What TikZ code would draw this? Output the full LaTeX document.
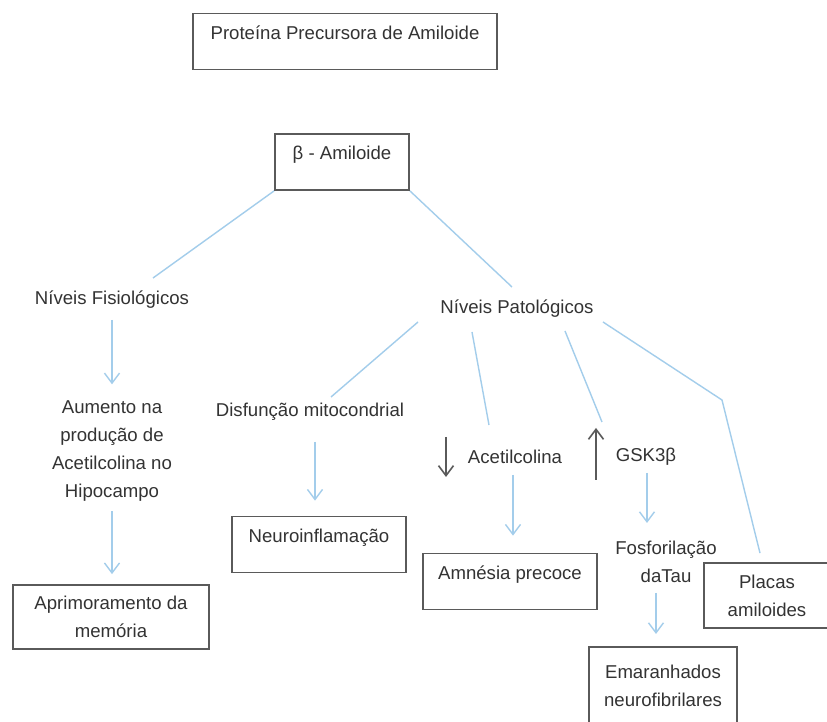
\documentclass[tikz,border=0pt]{standalone}
\usepackage{fontspec}
\setmainfont{Liberation Sans}
\usetikzlibrary{arrows.meta,calc}
\definecolor{linkblue}{HTML}{A3CDEB}
\definecolor{boxgray}{HTML}{5A5A5A}
\definecolor{txtgray}{HTML}{333333}
\tikzset{
  every node/.style={font=\fontsize{9.3}{14}\selectfont, text=txtgray},
  box/.style={draw=boxgray, line width=0.9pt, inner sep=4pt, text height=9pt, text depth=11pt},
  tallbox/.style={draw=boxgray, line width=0.9pt, align=center, inner sep=4pt},
  lbl/.style={align=center, inner sep=2pt},
  link/.style={draw=linkblue, line width=0.7pt},
  flow/.style={link, -{Straight Barb[length=5pt,width=7.5pt]}},
  updown/.style={draw=boxgray, line width=0.8pt, -{Straight Barb[length=5pt,width=7.5pt]}}
}
\begin{document}
\begin{tikzpicture}[x=0.5pt,y=-0.5pt]
  \fill[white] (0,0) rectangle (827,722);
  \useasboundingbox (0,0) rectangle (827,722);
  % boxes
  \node[box, minimum width=152pt] (ppa) at (345,41.5) {Proteína Precursora de Amiloide};
  \node[box, minimum width=67pt] (beta) at (342,162) {β - Amiloide};
  \node[box, minimum width=87pt] (neuro) at (319,544.5) {Neuroinflamação};
  \node[box, minimum width=87pt] (amnesia) at (510,581.5) {Amnésia precoce};
  \node[tallbox, minimum width=98pt, minimum height=32pt] (aprim) at (111,617) {Aprimoramento da\\memória};
  \node[tallbox, minimum width=63pt, minimum height=32.5pt] (placas) at (767,595.5) {Placas\\amiloides};
  \node[tallbox, minimum width=74pt, minimum height=38.5pt, anchor=north] (emar) at (663,646) {Emaranhados\\neurofibrilares};
  % plain labels
  \node[lbl] (fisio) at (112,300) {Níveis Fisiológicos};
  \node[lbl] (pato) at (517,309) {Níveis Patológicos};
  \node[lbl] (aumento) at (112,451) {Aumento na\\produção de\\Acetilcolina no\\Hipocampo};
  \node[lbl] (disf) at (310,412) {Disfunção mitocondrial};
  \node[lbl] (acet) at (515,457) {Acetilcolina};
  \node[lbl] (gsk) at (646,457) {GSK3β};
  \node[lbl] (fosf) at (666,562) {Fosforilação\\daTau};
  % up / down marks
  \coordinate (dnA) at (446,437);
  \coordinate (dnB) at (446,477);
  \coordinate (upA) at (596,480);
  \coordinate (upB) at (596,428);
  \coordinate (bend) at (722,400);
  % connectors
  \draw[link] (beta.south west) -- ($(fisio)+(41,-22)$);
  \draw[link] (beta.south east) -- ($(pato)+(-5,-22)$);
  \draw[flow] ($(fisio)+(0,20)$) -- ($(aumento.north)+(0,-12)$);
  \draw[flow] ($(aprim.north)+(1,-73)$) -- ($(aprim.north)+(1,-10)$);
  \draw[link] ($(pato)+(-99,13)$) -- ($(disf)+(21,-15)$);
  \draw[link] ($(pato)+(-45,23)$) -- ($(acet)+(-26,-32)$);
  \draw[link] ($(pato)+(48,22)$) -- ($(gsk)+(-44,-35)$);
  \draw[link] ($(pato)+(86,13)$) -- (bend) -- ($(placas.north)+(-7,-9)$);
  \draw[flow] ($(disf)+(5,30)$) -- ($(neuro.north)+(-4,-15)$);
  \draw[flow] ($(acet)+(-2,18)$) -- ($(amnesia.north)+(3,-17)$);
  \draw[flow] ($(gsk)+(1,16)$) -- ($(fosf)+(-19,-39)$);
  \draw[flow] ($(fosf)+(-10,31)$) -- ($(emar.north)+(-7,-12)$);
  \draw[updown] (dnA) -- (dnB);
  \draw[updown] (upA) -- (upB);
\end{tikzpicture}
\end{document}
